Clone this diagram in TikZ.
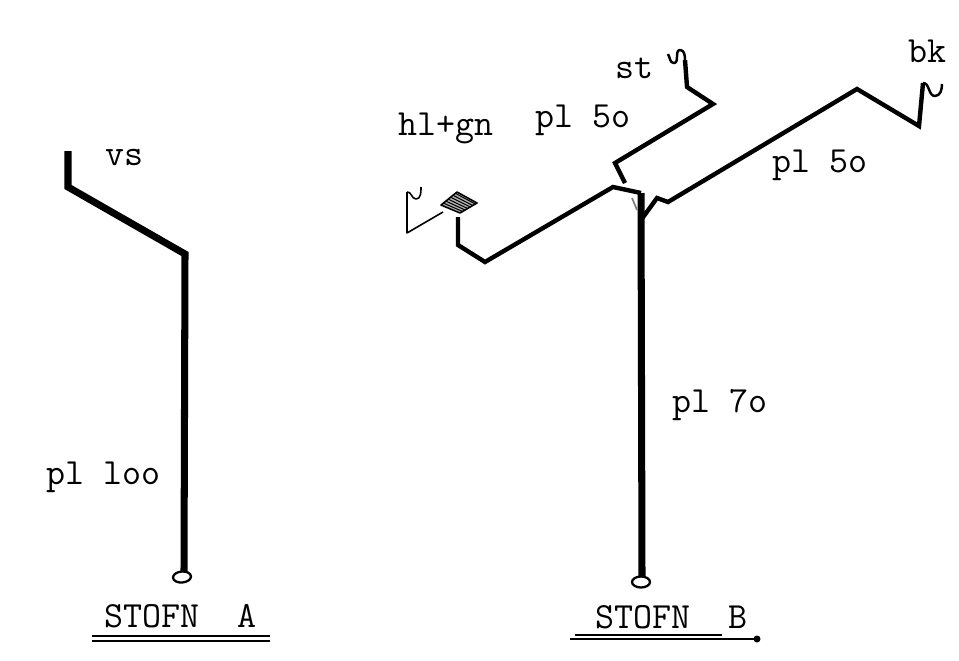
\documentclass[tikz,border=0pt]{standalone}
\usepackage{tikz}
\usetikzlibrary{calc}
\usetikzlibrary{shapes}
\usetikzlibrary{shapes.geometric}
\pgfdeclarelayer{edgelayer}
\pgfdeclarelayer{nodelayer}
\pgfsetlayers{edgelayer,nodelayer,main}
\tikzstyle{none}=[inner sep=0pt]
\tikzstyle{typed}=[inner sep=0pt, anchor=base west, font=\ttfamily\fontsize{21}{24}\selectfont]
\tikzstyle{pipe}=[line width=2.5pt, line join=miter]
\tikzstyle{stem}=[line width=4pt, line join=miter]
\tikzstyle{wire}=[line width=0.9pt, line join=round]
\tikzstyle{foot}=[draw, line width=1.3pt, fill=white, ellipse, minimum width=0.36cm, minimum height=0.22cm, inner sep=0pt]

\begin{document}
\begin{tikzpicture}[x=0.02cm, y=-0.02cm]
    \useasboundingbox (0, 0) rectangle (959, 660);
    \begin{pgfonlayer}{nodelayer}
	% stofn A
	\node [style=none] (0) at (68, 151) {};
	\node [style=none] (1) at (68, 187) {};
	\node [style=none] (2) at (185, 254) {};
	\node [style=none] (3) at (184, 571) {};
	\node [style=foot, rotate=5] (4) at (182, 577) {};
	\node [style=typed] (5) at (105, 165) {vs};
	\node [style=typed] (6) at (46, 484) {pl loo};
	\node [style=typed] (7) at (104, 627) {STOFN\ \ A};
	\node [style=none] (8) at (92, 636) {};
	\node [style=none] (9) at (270, 636) {};
	\node [style=none] (10) at (92, 641) {};
	\node [style=none] (11) at (270, 641) {};
	% stofn B
	\node [style=none] (12) at (641, 193) {};
	\node [style=none] (13) at (642, 577) {};
	\node [style=foot] (14) at (641, 582) {};
	\node [style=typed] (15) at (672, 412) {pl 7o};
	\node [style=typed] (16) at (595, 628) {STOFN\ \ B};
	\node [style=none] (17) at (575, 635) {};
	\node [style=none] (18) at (722, 635) {};
	\node [style=none] (19) at (570, 639) {};
	\node [style=none] (20) at (757, 639) {};
	\node [style=none, circle, fill=black, minimum size=0.14cm] (21) at (757, 639) {};
	% hl+gn
	\node [style=none] (22) at (613, 187) {};
	\node [style=none] (23) at (485, 262) {};
	\node [style=none] (24) at (458, 245) {};
	\node [style=none] (25) at (458, 217) {};
	\node [style=none] (26) at (441, 205) {};
	\node [style=none] (27) at (457, 192) {};
	\node [style=none] (28) at (477, 203) {};
	\node [style=none] (29) at (460, 213) {};
	\node [style=none] (30) at (443, 212) {};
	\node [style=none] (31) at (407, 233) {};
	\node [style=none] (32) at (407, 192) {};
	\node [style=none] (33) at (416, 199) {};
	\node [style=none] (34) at (421, 187) {};
	\node [style=typed] (35) at (398, 135) {hl+gn};
	\node [style=typed] (36) at (535, 127) {pl 5o};
	% st
	\node [style=none] (37) at (625, 183) {};
	\node [style=none] (38) at (615, 163) {};
	\node [style=none] (39) at (713, 104) {};
	\node [style=none] (40) at (687, 87) {};
	\node [style=none] (41) at (685, 60) {};
	\node [style=none] (42) at (680, 50) {};
	\node [style=none] (43) at (674, 63) {};
	\node [style=none] (57) at (668, 54) {};
	\node [style=typed] (44) at (615, 78) {st};
	% bk
	\node [style=none] (45) at (641, 220) {};
	\node [style=none] (46) at (657, 198) {};
	\node [style=none] (47) at (668, 202) {};
	\node [style=none] (48) at (857, 89) {};
	\node [style=none] (49) at (919, 126) {};
	\node [style=none] (50) at (923, 83) {};
	\node [style=none] (51) at (935, 96) {};
	\node [style=none] (52) at (942, 84) {};
	\node [style=typed] (53) at (772, 172) {pl 5o};
	\node [style=typed] (54) at (908, 62) {bk};
	\node [style=none] (55) at (632, 198) {};
	\node [style=none] (56) at (637, 210) {};
    \end{pgfonlayer}
    \begin{pgfonlayer}{edgelayer}
	\draw [style=stem] (0.center) to (1.center) to (2.center) to (3.center);
	\draw [line width=0.7pt] (8.center) to (9.center);
	\draw [line width=0.7pt] (10.center) to (11.center);
	\draw [style=stem] (12.center) to (13.center);
	\draw [line width=0.7pt] (17.center) to (18.center);
	\draw [line width=1pt] (19.center) to (20.center);
	\draw [style=pipe] (12.center) to (22.center) to (23.center) to (24.center) to (25.center);
	\draw [style=wire] (30.center) to (31.center) to (32.center);
	\draw [style=wire] (32.center) to [out=10, in=180] (33.center) to [out=0, in=-90] (34.center);
	\draw [style=wire, fill=gray!60] (26.center) to (27.center) to (28.center) to (29.center) to cycle;
	\foreach \t in {0.15,0.3,0.45,0.6,0.75,0.9} {
		\draw [line width=0.6pt] ($(26.center)!\t!(27.center)$) to ($(29.center)!\t!(28.center)$);
	}
	\draw [style=pipe] (37.center) to (38.center) to (39.center) to (40.center) to (41.center);
	\draw [style=wire, line width=1.4pt] (41.center) to [out=90, in=0] (42.center) to [out=180, in=0] (43.center) to [out=180, in=-60] (57.center);
	\draw [style=pipe] (45.center) to (46.center) to (47.center) to (48.center) to (49.center) to (50.center);
	\draw [style=wire, line width=1.4pt] (50.center) to [out=0, in=180] (51.center) to [out=0, in=-90] (52.center);
	\draw [line width=1pt, gray] (55.center) to (56.center);
    \end{pgfonlayer}
\end{tikzpicture}
\end{document}
